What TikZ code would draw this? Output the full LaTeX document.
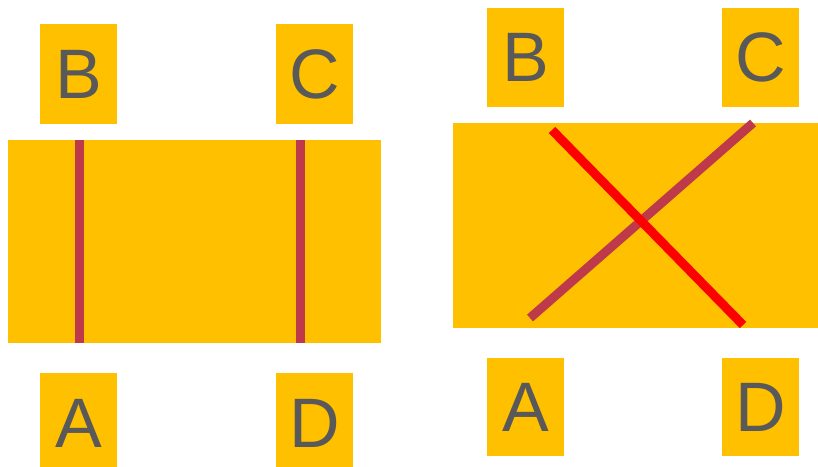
\documentclass[tikz,border=0pt]{standalone}
\usepackage{fontspec}
\setmainfont{Liberation Sans}
\definecolor{amber}{HTML}{FFC000}
\definecolor{txtgray}{HTML}{595959}
\definecolor{crimson}{HTML}{BE3A4A}
\definecolor{brightred}{HTML}{FF0000}
\begin{document}
\begin{tikzpicture}[x=1pt,y=-1pt,
  letterbox/.style={fill=amber, draw=none, minimum width=77pt, minimum height=100pt, inner sep=0pt, font=\fontsize{70}{70}\selectfont, text=txtgray, anchor=north west},
  bigbox/.style={fill=amber, draw=none, inner sep=0pt, anchor=north west},
  wire/.style={line width=9pt},
]
\useasboundingbox (0,0) rectangle (818,466);
% left panel
\node[bigbox, minimum width=373pt, minimum height=203pt] (L) at (8,140) {};
\node[letterbox] (LB) at (40,24) {B};
\node[letterbox] (LC) at (276,24) {C};
\node[letterbox] (LA) at (40,373) {A};
\node[letterbox] (LD) at (276,373) {D};
\coordinate (l1t) at (79,140);
\coordinate (l1b) at (79,343);
\coordinate (l2t) at (300.5,140);
\coordinate (l2b) at (300.5,343);
\draw[wire, crimson] (l1t) -- (l1b);
\draw[wire, crimson] (l2t) -- (l2b);
% right panel
\node[bigbox, minimum width=365pt, minimum height=205pt] (R) at (453,123) {};
\node[letterbox, minimum height=99pt] (RB) at (487,8) {B};
\node[letterbox, minimum height=99pt] (RC) at (722,8) {C};
\node[letterbox, minimum height=98pt] (RA) at (487,358) {A};
\node[letterbox, minimum height=98pt] (RD) at (722,358) {D};
\coordinate (x1a) at (530,318);
\coordinate (x1b) at (753,123);
\coordinate (x2a) at (552,130);
\coordinate (x2b) at (743,325);
\draw[wire, crimson] (x1a) -- (x1b);
\draw[wire, brightred] (x2a) -- (x2b);
\end{tikzpicture}
\end{document}
